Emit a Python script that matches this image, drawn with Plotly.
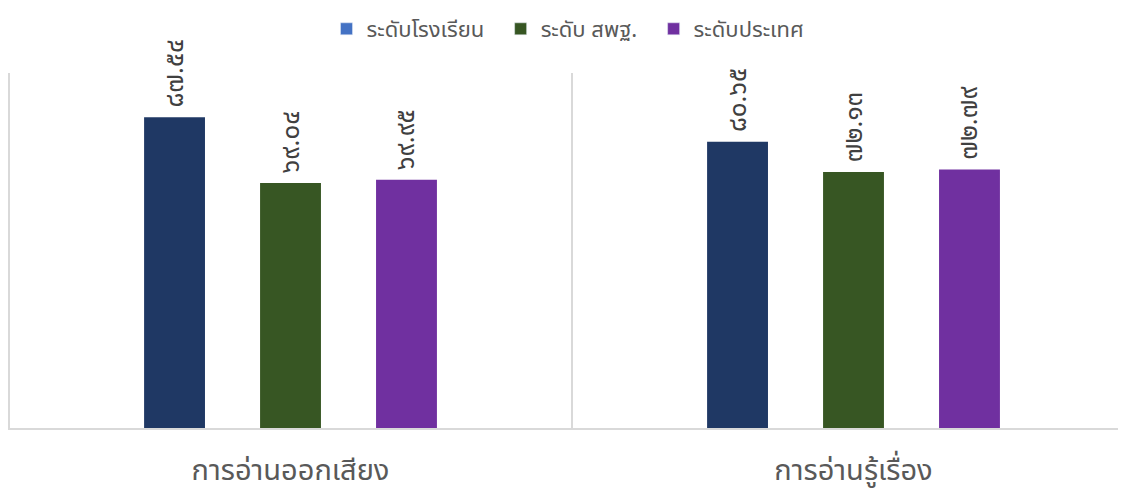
import plotly.graph_objects as go

categories = ["การอ่านออกเสียง", "การอ่านรู้เรื่อง"]
series_names = ["ระดับโรงเรียน", "ระดับ สพฐ.", "ระดับประเทศ"]
school = [87.54, 80.65]
obec = [69.04, 72.13]
national = [69.95, 72.79]

bar_colors = ["#1F3864", "#375623", "#7030A0"]
legend_colors = ["#4472C4", "#375623", "#7030A0"]

THAI_DIGITS = str.maketrans("0123456789", "๐๑๒๓๔๕๖๗๘๙")


def thai(v):
    return "\u00a0" + f"{v:.2f}".translate(THAI_DIGITS)


FONT = "Noto Sans Thai, Noto Sans, DejaVu Sans, sans-serif"

# the page body adds an 8px margin; the figure is sized to compensate
W, H = 1118, 485
PAD = "\u00a0\u00a0"

fig = go.Figure()
for i, (name, vals) in enumerate(zip(series_names, [school, obec, national])):
    fig.add_trace(go.Bar(
        x=categories, y=vals, name=name, showlegend=False,
        offsetgroup=str(i),
        marker=dict(color=bar_colors[i], line=dict(width=0)),
        text=[thai(v) for v in vals], textposition="outside",
        textangle=-90, cliponaxis=False, constraintext="none",
        textfont=dict(size=26, color="#404040", family=FONT),
    ))
    # legend proxy (shares offset group so it takes no extra slot)
    fig.add_trace(go.Bar(
        x=[categories[0]], y=[None],
        name=name + (PAD if i < 2 else ""), offsetgroup=str(i),
        marker=dict(color=legend_colors[i]), showlegend=True,
    ))

fig.update_layout(
    width=W, height=H,
    margin=dict(l=0, r=0, t=65, b=65, autoexpand=False),
    paper_bgcolor="white", plot_bgcolor="white",
    barmode="group", bargap=0.382, bargroupgap=0.475,
    font=dict(family=FONT, color="#595959"),
    legend=dict(orientation="h", xref="container", yref="container",
                x=0.5009, xanchor="center", y=1, yanchor="top",
                font=dict(size=22, color="#595959"), traceorder="normal"),
    xaxis=dict(type="category", range=[-0.5018, 1.484], tickson="boundaries",
               showgrid=True, gridcolor="#d9d9d9", gridwidth=1.5,
               showline=True, linecolor="#d9d9d9", linewidth=2,
               ticks="", ticklabelstandoff=15, automargin=False,
               tickfont=dict(size=29, color="#595959")),
    yaxis=dict(range=[0, 100], visible=False, automargin=False),
)

fig.write_html("out.html")
